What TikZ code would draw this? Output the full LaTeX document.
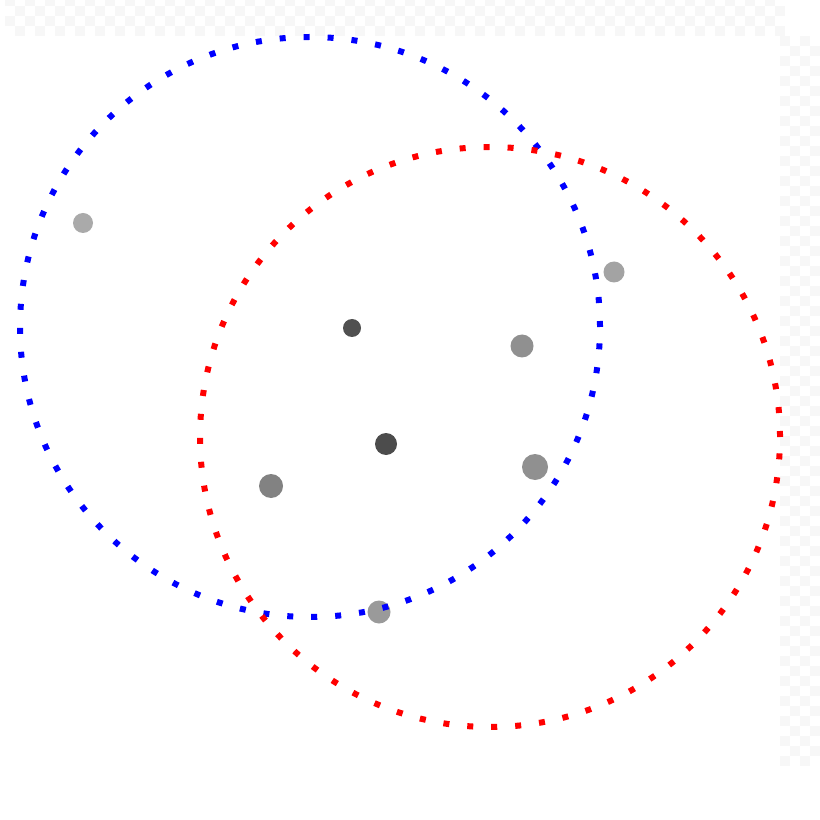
\documentclass[tikz,border=0pt]{standalone}
\usepackage{xcolor}
\usepackage{tikz}

\definecolor{checker}{HTML}{F7F7F7}
\definecolor{dotpale}{HTML}{AAAAAA}
\definecolor{dotlight}{HTML}{A3A3A3}
\definecolor{dotmid}{HTML}{909090}
\definecolor{dotgray}{HTML}{828282}
\definecolor{dotsoft}{HTML}{9A9A9A}
\definecolor{dotdark}{HTML}{505050}

\begin{document}
\begin{tikzpicture}[
  x=0.1mm, y=-0.1mm,
  pt/.style={circle, inner sep=0pt, minimum size=#1},
  ring/.style={draw=#1, circle, inner sep=0pt, outer sep=0pt, minimum size=58mm,
    line width=0.6mm, dash pattern=on 0.6mm off 1.8mm}
]
\useasboundingbox (0,0) rectangle (820,820);
\fill[white] (0,0) rectangle (820,820);

% faint transparency checker round the canvas
\foreach \i in {0,...,77} {
  \foreach \j in {0,...,3} {
    \pgfmathparse{int(mod(\i+\j,2))}
    \ifnum\pgfmathresult=0
      \fill[checker] (\i*10+5,\j*10-4) rectangle ++(10,10);
    \fi
  }
}
\foreach \i in {0,...,3} {
  \foreach \j in {4,...,76} {
    \pgfmathparse{int(mod(\i+\j,2))}
    \ifnum\pgfmathresult=0
      \fill[checker] (\i*10+780,\j*10-4) rectangle ++(10,10);
    \fi
  }
}
\fill[white] (5,36) rectangle (780,768);

% points
\node[pt=2mm, fill=dotpale] (p1) at (83,223) {};
\node[pt=2.1mm, fill=dotlight] (p2) at (614,272) {};
\node[pt=1.8mm, fill=dotdark] (p3) at (352,328) {};
\node[pt=2.3mm, fill=dotmid] (p4) at (522,346) {};
\node[pt=2.2mm, fill=dotdark!95!black] (p5) at (386,444) {};
\node[pt=2.6mm, fill=dotmid] (p6) at (535,467) {};
\node[pt=2.4mm, fill=dotgray] (p7) at (271,486) {};
\node[pt=2.3mm, fill=dotsoft] (p8) at (379,612) {};

% clusters
\node[ring=blue] (blueRing) at (310,327) {};
\node[ring=red] (redRing) at (490,437) {};
\end{tikzpicture}
\end{document}
